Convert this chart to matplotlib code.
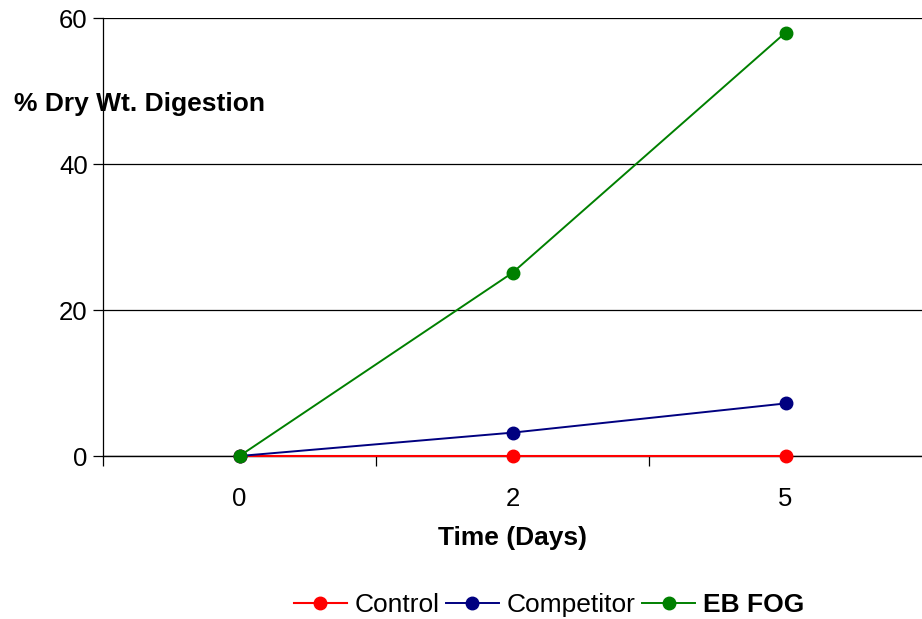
import matplotlib
matplotlib.use("Agg")
import matplotlib.pyplot as plt
import numpy as np

plt.rcParams['font.family'] = ['Liberation Sans', 'DejaVu Sans']

days = ['0', '2', '5']
control = [0, 0, 0]
competitor = [0, 3.2, 7.2]
eb_fog = [0, 25.1, 58.0]

fig = plt.figure(figsize=(9.22, 6.19), dpi=100)
ax = fig.add_axes([103 / 922, 163 / 619, 819 / 922, 438 / 619])

x = np.arange(len(days))
ax.plot(x, control, color='#ff0000', marker='o', markersize=9, lw=1.5, label='Control',
        zorder=3, clip_on=False)
ax.plot(x, competitor, color='#000080', marker='o', markersize=9, lw=1.4, label='Competitor',
        zorder=3, clip_on=False)
ax.plot(x, eb_fog, color='#008000', marker='o', markersize=9, lw=1.4, label='EB FOG',
        zorder=3, clip_on=False)

ax.set_xlim(-0.5, 2.5)
ax.set_ylim(0, 60)
ax.set_yticks([0, 20, 40, 60])
ax.yaxis.grid(True, color='black', lw=0.9)
ax.set_axisbelow(True)
for s in ['top', 'right']:
    ax.spines[s].set_visible(False)
ax.spines['left'].set_linewidth(0.9)
ax.spines['bottom'].set_linewidth(1.0)
ax.tick_params(axis='y', labelsize=18.5, length=7, width=0.9, pad=4)

# category boundaries carry the ticks, labels sit on the categories
ax.set_xticks([-0.5, 0.5, 1.5])
ax.set_xticklabels([])
ax.tick_params(axis='x', which='major', length=7, width=0.9)
ax.set_xticks(x, minor=True)
ax.set_xticklabels(days, minor=True)
ax.tick_params(axis='x', which='minor', length=0, labelsize=18.5, pad=22)

ax.set_xlabel('Time (Days)', fontsize=19, fontweight='bold', labelpad=11)
fig.text(14 / 922, 1 - 104 / 619, '% Dry Wt. Digestion', fontsize=19, fontweight='bold',
         ha='left', va='center')

leg = fig.legend(loc='center', bbox_to_anchor=(549 / 922, 1 - 605 / 619), ncol=3,
                 frameon=False, fontsize=19, handlelength=2.0, handletextpad=0.3,
                 columnspacing=0.25, markerscale=1.0)
leg.get_texts()[2].set_fontweight('bold')

fig.savefig('out.png', dpi=100)
